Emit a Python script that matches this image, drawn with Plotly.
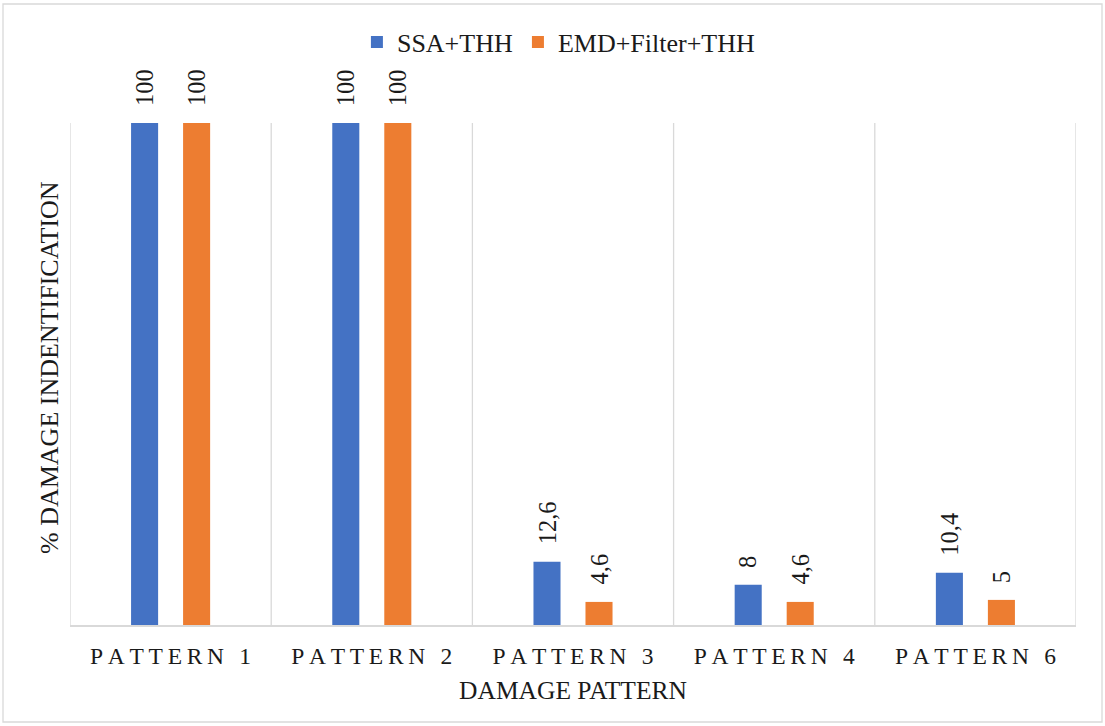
import plotly.graph_objects as go

# Damage identification rate per pattern for two detection methods
patterns = ["PATTERN 1", "PATTERN 2", "PATTERN 3", "PATTERN 4", "PATTERN 6"]
series_names = ["SSA+THH", "EMD+Filter+THH"]
ssa_thh = [100, 100, 12.6, 8, 10.4]
emd_filter_thh = [100, 100, 4.6, 4.6, 5]

colors = ["#4472C4", "#ED7D31"]
FONT = "'Liberation Serif', 'Times New Roman', Times, serif"
TEXT = "#1a1a1a"
GRID = "#D9D9D9"

THIN = "\u2009"


def spaced(label):
    # letter-spaced category labels
    return THIN.join(label)


def fmt(v):
    s = f"{v:g}"
    return s.replace(".", ",")


tick_text = [spaced(p) for p in patterns]

fig = go.Figure()
for name, vals, col in zip(series_names, [ssa_thh, emd_filter_thh], colors):
    fig.add_trace(go.Bar(
        name=name, x=patterns, y=vals,
        marker=dict(color=col, line=dict(width=0)),
        cliponaxis=False,
    ))

L, R, T, B = 70, 29, 123, 101
W, H = 1105, 726
pw, ph = W - L - R, H - T - B

# rotated value labels above each bar
annotations = []
for vals, shift in [(ssa_thh, -26), (emd_filter_thh, 26)]:
    for p, v in zip(patterns, vals):
        annotations.append(dict(
            x=p, y=v, xref="x", yref="y", text=fmt(v), showarrow=False,
            textangle=-90, xanchor="center", yanchor="bottom",
            xshift=shift, yshift=15,
            font=dict(family=FONT, size=24.5, color=TEXT),
        ))

# vertical axis title
annotations.append(dict(
    x=(49 - L) / pw, y=(H - B - 368) / ph, xref="paper", yref="paper",
    text="% DAMAGE INDENTIFICATION", showarrow=False, textangle=-90,
    xanchor="center", yanchor="middle",
    font=dict(family=FONT, size=26, color=TEXT),
))

shapes = []
# category boundary lines
for i in range(len(patterns) + 1):
    shapes.append(dict(type="line", xref="x", yref="paper",
                       x0=i - 0.5, x1=i - 0.5, y0=0, y1=1,
                       line=dict(color=GRID, width=1.3), layer="below"))
# chart frame
shapes.append(dict(type="rect", xref="paper", yref="paper",
                   x0=(3 - L) / pw, x1=(1102 - L) / pw,
                   y0=(H - B - 722) / ph, y1=(H - B - 4) / ph,
                   line=dict(color=GRID, width=1.3), fillcolor="rgba(0,0,0,0)"))

fig.update_layout(
    width=W, height=H,
    margin=dict(l=L, r=R, t=T, b=B),
    paper_bgcolor="white", plot_bgcolor="white",
    barmode="group", bargap=0.483, bargroupgap=0.48,
    font=dict(family=FONT, color=TEXT),
    showlegend=True,
    legend=dict(orientation="h", x=0.486, xanchor="center",
                y=(H - B - 42) / ph, yanchor="middle",
                font=dict(family=FONT, size=26, color=TEXT),
                itemwidth=30, traceorder="normal"),
    xaxis=dict(
        type="category", tickmode="array", tickvals=patterns, ticktext=tick_text,
        tickfont=dict(family=FONT, size=23.5, color=TEXT),
        ticklabelstandoff=9,
        showgrid=False, zeroline=False, ticks="",
        showline=True, linecolor=GRID, linewidth=1.5,
        range=[-0.5, len(patterns) - 0.5],
        title=dict(text="DAMAGE PATTERN", font=dict(family=FONT, size=25.5, color=TEXT), standoff=13),
        automargin=False,
    ),
    yaxis=dict(
        range=[0, 100], showgrid=False, zeroline=False, showticklabels=False,
        ticks="", showline=False, fixedrange=True,
        automargin=False,
    ),
    annotations=annotations,
    shapes=shapes,
)

fig.write_html("out.html")
